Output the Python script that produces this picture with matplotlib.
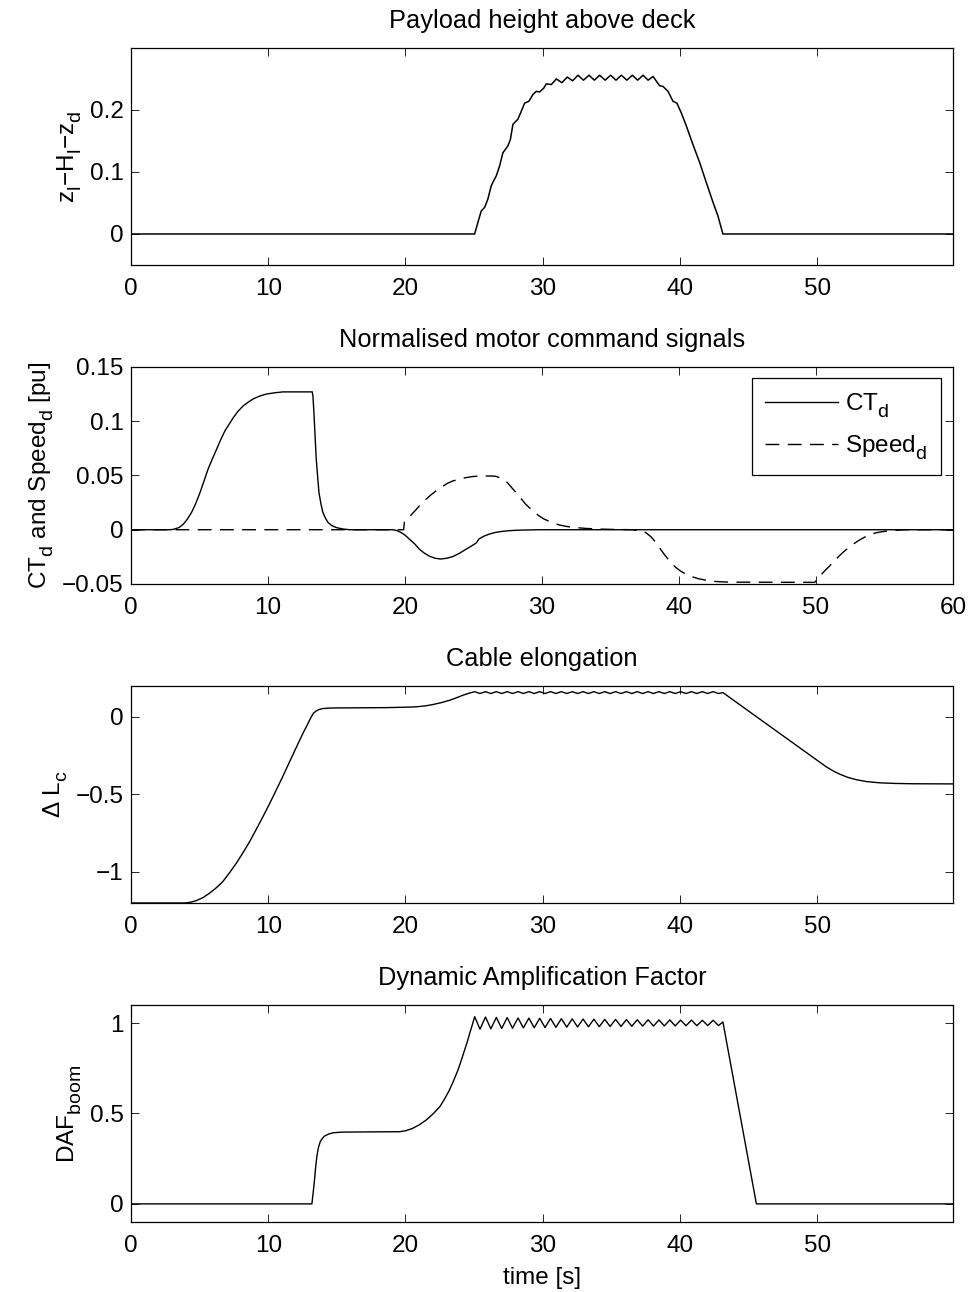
import matplotlib
matplotlib.use("Agg")
import matplotlib.pyplot as plt
from matplotlib.ticker import FixedLocator, FixedFormatter

plt.rcParams['font.family'] = ['Liberation Sans', 'DejaVu Sans']
plt.rcParams['mathtext.fontset'] = 'custom'
plt.rcParams['mathtext.rm'] = 'Liberation Sans'
plt.rcParams['mathtext.it'] = 'Liberation Sans'
plt.rcParams['font.size'] = 17.5
plt.rcParams['axes.titlesize'] = 18.3

# larger, lower subscripts (closer to the TeX-style labels of the original tool)
try:
    import matplotlib._mathtext as _mt
    _mt.SHRINK_FACTOR = 0.8
    _mt.FontConstantsBase.sub1 = 0.6
except Exception:
    pass

# --- payload height above deck ---
height_t = [0, 25.04, 25.28, 25.52, 25.77, 26.0, 26.25, 26.62, 26.86, 27.1, 27.46,
            27.64, 27.83, 28.19, 28.44, 28.68, 28.99, 29.29, 29.53, 29.77, 30.07,
            30.26, 30.63, 30.99, 31.4, 31.79, 32.18, 32.57, 32.97, 33.37, 33.76,
            34.15, 34.55, 34.95, 35.34, 35.73, 36.13, 36.53, 36.92, 37.31, 37.68,
            38.04, 38.52, 38.76, 39.13, 39.49, 39.78, 40.1, 40.47, 40.95, 41.44,
            41.92, 42.41, 42.77, 43.13, 59.9]
height_v = [0, 0, 0.019, 0.037, 0.043, 0.056, 0.078, 0.094, 0.110, 0.131, 0.142,
            0.152, 0.177, 0.185, 0.198, 0.211, 0.214, 0.225, 0.230, 0.229, 0.235,
            0.242, 0.241, 0.250, 0.244, 0.253, 0.247, 0.256, 0.248, 0.256, 0.248,
            0.256, 0.248, 0.256, 0.248, 0.256, 0.248, 0.256, 0.248, 0.256, 0.248,
            0.254, 0.239, 0.238, 0.230, 0.214, 0.211, 0.195, 0.174, 0.144, 0.115,
            0.083, 0.051, 0.029, 0, 0]

# --- motor command signals ---
ct_t = [0, 2.84, 3.08, 3.5, 3.81, 4.1, 4.42, 4.72, 5.03, 5.33, 5.63, 5.93, 6.24,
        6.55, 6.85, 7.15, 7.45, 7.8, 8.18, 8.55, 8.91, 9.4, 9.88, 10.5, 11.1,
        13.23, 13.28, 13.34, 13.4, 13.46, 13.52, 13.62, 13.72, 13.86, 14.0, 14.18,
        14.37, 14.65, 14.98, 15.45, 15.95, 19.1, 19.4, 19.7, 20.0, 20.3, 20.7,
        21.05, 21.4, 21.8, 22.2, 22.6, 23.05, 23.5, 24.0, 24.45, 24.85, 25.2,
        25.4, 25.75, 26.15, 26.6, 27.1, 27.7, 28.3, 29.8, 60]
ct_v = [0, 0, 0.0003, 0.002, 0.005, 0.0095, 0.016, 0.024, 0.034, 0.045, 0.056,
        0.065, 0.074, 0.083, 0.091, 0.097, 0.103, 0.109, 0.114, 0.1175, 0.1205,
        0.1232, 0.125, 0.1262, 0.127, 0.127, 0.123, 0.11, 0.095, 0.08, 0.065,
        0.049, 0.034, 0.024, 0.016, 0.011, 0.0068, 0.0038, 0.002, 0.0007, 0, 0,
        -0.0008, -0.0025, -0.005, -0.0085, -0.013, -0.018, -0.0215, -0.0245,
        -0.0263, -0.027, -0.0263, -0.0247, -0.0215, -0.018, -0.015, -0.0122,
        -0.0085, -0.006, -0.004, -0.0025, -0.0015, -0.0008, -0.0004, 0, 0]
speed_t = [0, 19.9, 19.95, 20.4, 20.8, 21.15, 21.54, 21.9, 22.27, 22.7, 23.1,
           23.5, 23.96, 24.45, 24.93, 25.4, 25.9, 26.3, 26.63, 27.0, 27.36, 27.7,
           28.1, 28.45, 28.8, 29.1, 29.4, 29.75, 30.15, 30.65, 31.2, 31.7, 32.2,
           33.2, 34.2, 35.4, 36.6, 37.1, 37.56, 37.95, 38.3, 38.65, 39.0, 39.37,
           39.74, 40.1, 40.47, 40.95, 41.44, 42.0, 42.66, 43.3, 43.87, 49.9, 50.2,
           50.55, 51.1, 51.6, 52.0, 52.4, 52.75, 53.1, 53.6, 54.06, 54.5, 55.0,
           55.7, 56.5, 60]
speed_v = [0, 0, 0.0068, 0.013, 0.0184, 0.0235, 0.0282, 0.0322, 0.0358, 0.0395,
           0.0428, 0.045, 0.0465, 0.048, 0.049, 0.0494, 0.0495, 0.0495, 0.0492,
           0.0475, 0.045, 0.040, 0.0343, 0.029, 0.0236, 0.020, 0.0165, 0.013,
           0.0098, 0.007, 0.0046, 0.0032, 0.0022, 0.0012, 0.0006, 0.0002, 0,
           -0.001, -0.0025, -0.0065, -0.0116, -0.018, -0.024, -0.0297, -0.0345,
           -0.038, -0.0407, -0.0433, -0.0452, -0.0466, -0.0477, -0.0481, -0.0483,
           -0.0485, -0.044, -0.039, -0.032, -0.0253, -0.0205, -0.0162, -0.013,
           -0.010, -0.0065, -0.0039, -0.0025, -0.0015, -0.0006, 0, 0]

# oscillation crest / trough instants while the payload hangs (t = 25..43 s)
crest_t = [25.04, 25.83, 26.62, 27.41, 28.20, 28.99, 29.78, 30.57, 31.36, 32.15,
           32.94, 33.73, 34.52, 35.31, 36.10, 36.89, 37.68, 38.47, 39.26, 40.05,
           40.84, 41.63, 42.42]
trough_t = [25.43, 26.22, 27.01, 27.80, 28.59, 29.38, 30.17, 30.96, 31.75, 32.54,
            33.33, 34.12, 34.91, 35.70, 36.49, 37.28, 38.07, 38.86, 39.65, 40.44,
            41.23, 42.02, 42.81]

# --- cable elongation ---
cable_pre_t = [0, 3.9, 4.3, 4.75, 5.25, 5.72, 6.2, 6.69, 7.17, 7.67, 8.15, 8.64,
               9.12, 9.61, 10.1, 10.58, 11.07, 11.55, 12.03, 12.52, 12.85, 13.13,
               13.3, 13.5, 13.7, 13.98, 14.4, 14.96, 18.6, 19.6, 20.5, 21.0, 21.5,
               22.0, 22.6, 23.2, 23.7, 24.18, 24.6]
cable_pre_v = [-1.2, -1.2, -1.196, -1.185, -1.165, -1.137, -1.103, -1.062,
               -1.006, -0.944, -0.877, -0.805, -0.726, -0.644, -0.559, -0.472,
               -0.382, -0.29, -0.199, -0.107, -0.05, 0.0, 0.025, 0.039, 0.048,
               0.054, 0.057, 0.058, 0.06, 0.062, 0.064, 0.067, 0.072, 0.08, 0.092,
               0.107, 0.123, 0.14, 0.152]
cable_crest_v = [0.163] * 23
cable_trough_v = [0.151] * 23
cable_post_t = [43.13, 50.3, 50.67, 51.2, 51.64, 52.2, 52.86, 53.6, 54.55, 55.7,
                56.98, 59.9]
cable_post_v = [0.157, -0.299, -0.322, -0.35, -0.369, -0.389, -0.405, -0.417,
                -0.425, -0.429, -0.431, -0.432]

# --- dynamic amplification factor ---
daf_pre_t = [0, 13.18, 13.27, 13.37, 13.45, 13.54, 13.65, 13.79, 13.95, 14.1,
             14.4, 14.71, 15.2, 15.68, 17.5, 19.57, 20.05, 20.5, 21.0, 21.5, 22.0,
             22.5, 22.85, 23.2, 23.5, 23.82, 24.05, 24.3, 24.5, 24.67, 24.85]
daf_pre_v = [0, 0, 0.06, 0.132, 0.2, 0.261, 0.31, 0.344, 0.363, 0.375, 0.386,
             0.393, 0.396, 0.397, 0.398, 0.399, 0.405, 0.417, 0.437, 0.463, 0.497,
             0.537, 0.58, 0.629, 0.68, 0.739, 0.79, 0.849, 0.895, 0.941, 0.985]
daf_crest_v = [1.035, 1.033, 1.031, 1.030, 1.028, 1.027, 1.026, 1.025, 1.024,
               1.023, 1.022, 1.021, 1.020, 1.020, 1.019, 1.018, 1.018, 1.017,
               1.017, 1.016, 1.016, 1.015, 1.015]
daf_trough_v = [0.966, 0.968, 0.970, 0.971, 0.973, 0.974, 0.975, 0.976, 0.977,
                0.978, 0.979, 0.980, 0.981, 0.981, 0.982, 0.983, 0.983, 0.984,
                0.984, 0.985, 0.985, 0.986, 0.986]
daf_post_t = [43.13, 45.57, 59.9]
daf_post_v = [1.006, 0, 0]


def with_ripple(pre_t, pre_v, crest_v, trough_v, post_t, post_v):
    t, v = list(pre_t), list(pre_v)
    for ct, cv, tt, tv in zip(crest_t, crest_v, trough_t, trough_v):
        t += [ct, tt]
        v += [cv, tv]
    return t + post_t, v + post_v


cable_t, cable_v = with_ripple(cable_pre_t, cable_pre_v, cable_crest_v,
                               cable_trough_v, cable_post_t, cable_post_v)
daf_t, daf_v = with_ripple(daf_pre_t, daf_pre_v, daf_crest_v, daf_trough_v,
                           daf_post_t, daf_post_v)

fig = plt.figure(figsize=(9.72, 12.92), dpi=100)
left, width, height = 0.1348, 0.8457, 0.168
bottoms = [0.7949, 0.5480, 0.3011, 0.0542]
axes = [fig.add_axes([left, b, width, height]) for b in bottoms]


def style(ax, xlim, xticks, ylim, yticks, yticklabels):
    ax.set_xlim(*xlim)
    ax.set_ylim(*ylim)
    ax.xaxis.set_major_locator(FixedLocator(xticks))
    ax.xaxis.set_major_formatter(FixedFormatter([str(x) for x in xticks]))
    ax.yaxis.set_major_locator(FixedLocator(yticks))
    ax.yaxis.set_major_formatter(FixedFormatter(yticklabels))
    ax.tick_params(direction='in', length=5.5, width=0.6, top=True, right=True)
    ax.tick_params(axis='y', pad=5.5)
    ax.tick_params(axis='x', pad=9.5)
    for s in ax.spines.values():
        s.set_linewidth(0.9)


ax = axes[0]
ax.plot(height_t, height_v, color='black', lw=1.1)
style(ax, (0, 59.9), [0, 10, 20, 30, 40, 50], (-0.05, 0.3), [0, 0.1, 0.2],
      ['0', '0.1', '0.2'])
ax.set_title('Payload height above deck', pad=14)
ax.set_ylabel('z$_\\mathrm{l}$\u2212H$_\\mathrm{l}$\u2212z$_\\mathrm{d}$')

ax = axes[1]
ax.plot(ct_t, ct_v, color='black', lw=1.0, label='CT$_\\mathrm{d}$')
ax.plot(speed_t, speed_v, color='black', lw=1.0, dashes=(10, 6),
        label='Speed$_\\mathrm{d}$')
style(ax, (0, 60), [0, 10, 20, 30, 40, 50, 60], (-0.05, 0.15),
      [-0.05, 0, 0.05, 0.1, 0.15], ['\u22120.05', '0', '0.05', '0.1', '0.15'])
ax.set_title('Normalised motor command signals', pad=14)
ax.set_ylabel('CT$_\\mathrm{d}$ and Speed$_\\mathrm{d}$ [pu]')
leg = ax.legend(loc='upper right', bbox_to_anchor=(0.985, 0.95), borderaxespad=0,
                handlelength=3.0, fancybox=False, framealpha=1, edgecolor='black',
                borderpad=0.55, labelspacing=0.55, handletextpad=0.3)
leg.get_frame().set_linewidth(0.9)

ax = axes[2]
ax.plot(cable_t, cable_v, color='black', lw=1.0)
style(ax, (0, 59.9), [0, 10, 20, 30, 40, 50], (-1.2, 0.2), [-1, -0.5, 0],
      ['\u22121', '\u22120.5', '0'])
ax.set_title('Cable elongation', pad=14)
ax.set_ylabel('\u0394 L$_\\mathrm{c}$')

ax = axes[3]
ax.plot(daf_t, daf_v, color='black', lw=1.0)
style(ax, (0, 59.9), [0, 10, 20, 30, 40, 50], (-0.1, 1.1), [0, 0.5, 1],
      ['0', '0.5', '1'])
ax.set_title('Dynamic Amplification Factor', pad=14)
ax.set_ylabel('DAF$_\\mathrm{boom}$')
ax.set_xlabel('time [s]', labelpad=7)

fig.savefig('out.png', dpi=100)
